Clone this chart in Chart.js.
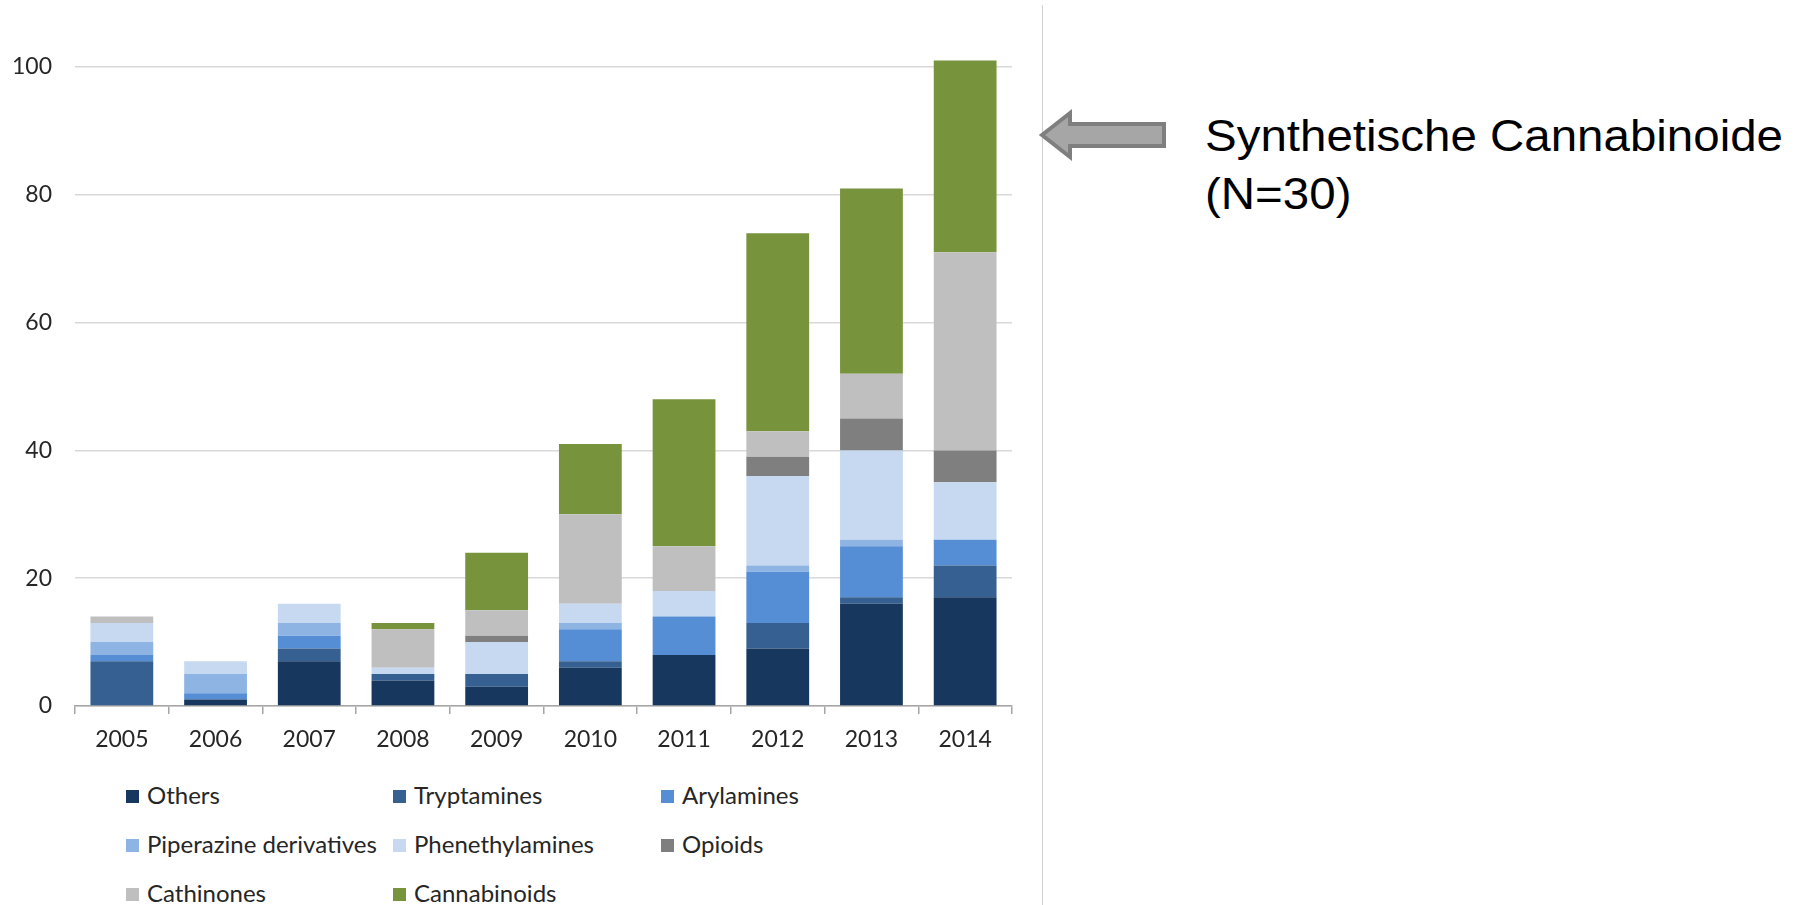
<!DOCTYPE html>
<html>
<head>
<meta charset="utf-8">
<script src="https://cdn.jsdelivr.net/npm/chart.js@4/dist/chart.umd.min.js"></script>
<style>
  body { margin: 0; background: #fff; width: 1804px; height: 905px; overflow: hidden; position: relative; }
  #wrap { position: absolute; left: 0; top: 0; width: 1030px; height: 766px; }
  #legend { position: absolute; left: 126px; top: 780px; font-family: Lato, sans-serif; font-size: 24px; color: #262626; }
  .item { position: absolute; white-space: nowrap; height: 30px; line-height: 30px; }
  .item span.box { display: inline-block; width: 13px; height: 13px; margin-right: 8px; vertical-align: 1px; }
  #divider { position: absolute; left: 1042px; top: 5px; width: 1px; height: 900px; background: #d0d0d0; }
  #note { position: absolute; left: 1205px; top: 107px; font-family: "Liberation Sans", Arial, sans-serif; font-size: 45px; line-height: 58px; color: #000; transform: scaleX(1.055); transform-origin: left top; white-space: nowrap; }
  #arrow { position: absolute; left: 1036px; top: 108px; }
</style>
</head>
<body>
<div id="wrap"><canvas id="mycanvas"></canvas></div>
<div id="legend"></div>
<div id="divider"></div>
<svg id="arrow" width="140" height="60">
  <polygon points="6,27 34,5 34,16 128,16 128,38 34,38 34,49" fill="#a6a6a6" stroke="#7f7f7f" stroke-width="4" stroke-linejoin="miter"/>
</svg>
<div id="note">Synthetische Cannabinoide<br>(N=30)</div>
<script>
var Years = ['2005', '2006', '2007', '2008', '2009', '2010', '2011', '2012', '2013', '2014'];
var Others          = [0, 1, 7, 4, 3, 6, 8, 9, 16, 17];
var Tryptamines     = [7, 0, 2, 1, 2, 1, 0, 4, 1, 5];
var Arylamines      = [1, 1, 2, 0, 0, 5, 6, 8, 8, 4];
var Piperazine      = [2, 3, 2, 0, 0, 1, 0, 1, 1, 0];
var Phenethylamines = [3, 2, 3, 1, 5, 3, 4, 14, 14, 9];
var Opioids         = [0, 0, 0, 0, 1, 0, 0, 3, 5, 5];
var Cathinones      = [1, 0, 0, 6, 4, 14, 7, 4, 7, 31];
var Cannabinoids    = [0, 0, 0, 1, 9, 11, 23, 31, 29, 30];
var YTicks = [0, 20, 40, 60, 80, 100];

var chartdata = {
  labels: Years,
  datasets: [
    { label: 'Others', backgroundColor: '#17375e', data: Others },
    { label: 'Tryptamines', backgroundColor: '#366092', data: Tryptamines },
    { label: 'Arylamines', backgroundColor: '#558ed5', data: Arylamines },
    { label: 'Piperazine derivatives', backgroundColor: '#8eb4e3', data: Piperazine },
    { label: 'Phenethylamines', backgroundColor: '#c6d9f1', data: Phenethylamines },
    { label: 'Opioids', backgroundColor: '#7f7f7f', data: Opioids },
    { label: 'Cathinones', backgroundColor: '#bfbfbf', data: Cathinones },
    { label: 'Cannabinoids', backgroundColor: '#77933c', data: Cannabinoids }
  ]
};
chartdata.datasets.forEach(function(ds) {
  ds.barPercentage = 0.67;
  ds.categoryPercentage = 1;
  ds.clip = false;
  ds.borderWidth = 0;
});

var ctx = document.getElementById('mycanvas');
var chart = new Chart(ctx, {
  type: 'bar',
  data: chartdata,
  options: {
    responsive: true,
    maintainAspectRatio: false,
    animation: false,
    layout: { padding: { top: 67, right: 18, left: 0, bottom: 0 } },
    plugins: { legend: { display: false }, tooltip: { enabled: false } },
    scales: {
      x: {
        stacked: true,
        afterFit: function(s) { s.height = 60; },
        border: { display: true, color: '#a6a6a6', width: 1.5 },
        grid: { offset: true, drawOnChartArea: false, drawTicks: true, tickLength: 8, color: '#a6a6a6', lineWidth: 1.5 },
        ticks: { color: '#262626', font: { family: 'Lato', size: 23 }, padding: 12, maxRotation: 0 }
      },
      y: {
        stacked: true,
        min: 0,
        max: 100,
        afterFit: function(s) { s.width = 75; },
        afterBuildTicks: function(s) { s.ticks = YTicks.map(function(v) { return { value: v }; }); },
        border: { display: false },
        grid: { color: '#d9d9d9', lineWidth: 1.5, drawTicks: false },
        ticks: { color: '#262626', font: { family: 'Lato', size: 23 }, padding: 23 }
      }
    }
  }
});

// legend in 3 columns, built from the datasets
var legend = document.getElementById('legend');
var colX = [0, 267, 535];
chartdata.datasets.forEach(function(ds, i) {
  var d = document.createElement('div');
  d.className = 'item';
  d.style.left = colX[i % 3] + 'px';
  d.style.top = (Math.floor(i / 3) * 49) + 'px';
  d.innerHTML = '<span class="box" style="background:' + ds.backgroundColor + '"></span>' + ds.label;
  legend.appendChild(d);
});
</script>
</body>
</html>
